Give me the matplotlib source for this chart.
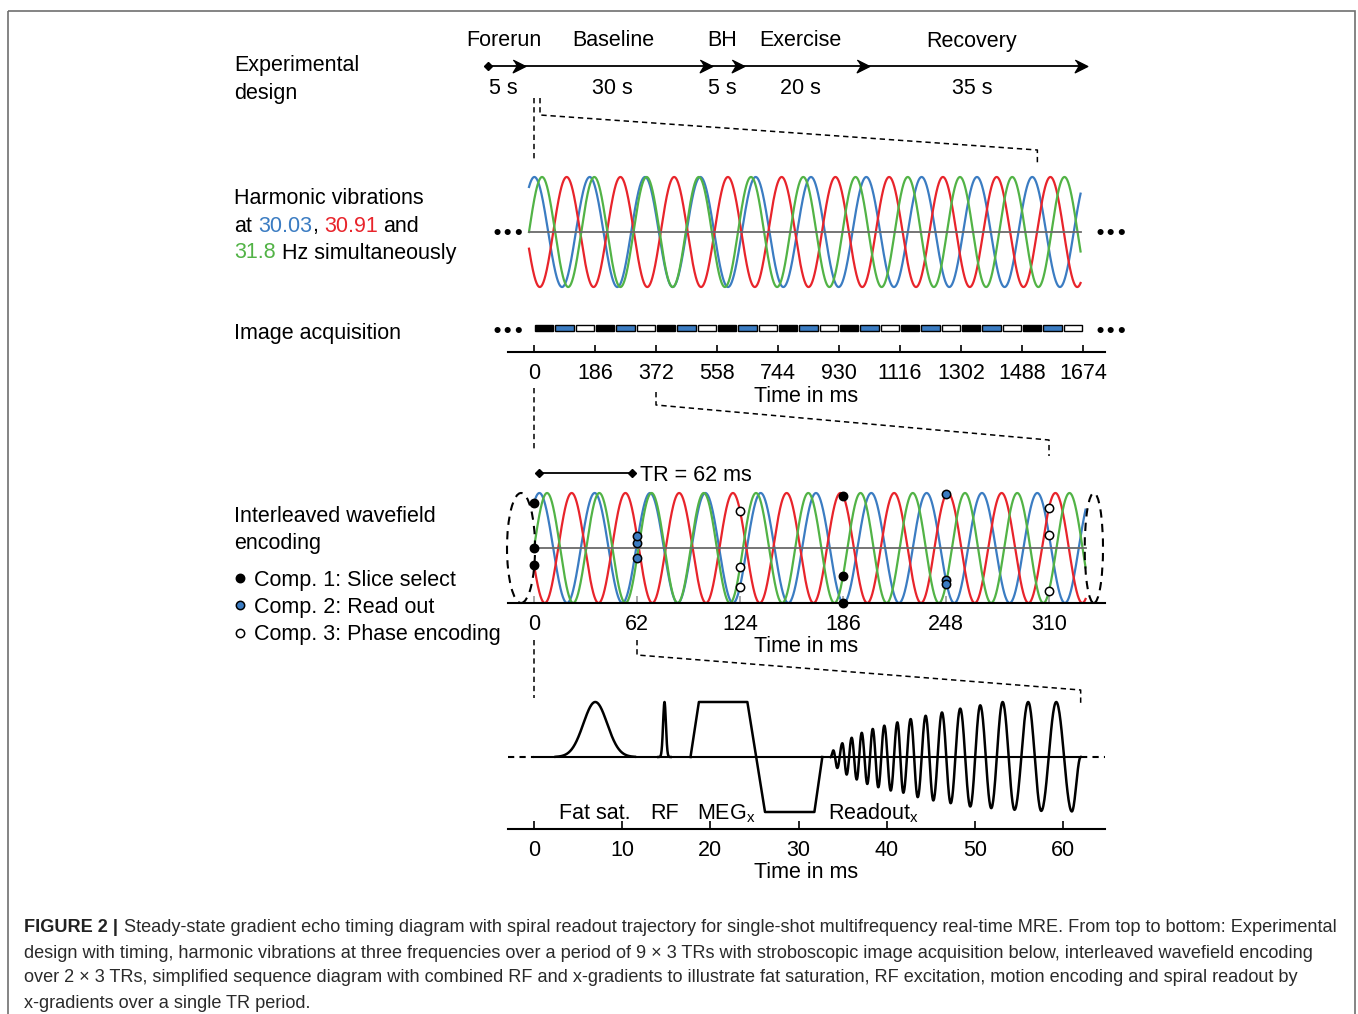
import matplotlib
matplotlib.use('Agg')
import matplotlib.pyplot as plt
from matplotlib.lines import Line2D
from matplotlib.patches import Ellipse, Rectangle
import numpy as np

plt.rcParams['font.family'] = ['Liberation Sans', 'DejaVu Sans']
plt.rcParams['mathtext.fontset'] = 'custom'
plt.rcParams['mathtext.rm'] = 'Liberation Sans'
plt.rcParams['mathtext.it'] = 'Liberation Sans:italic'

W, H = 1358, 1014
FS = 15.5

# experimental design
phases = ['Forerun', 'Baseline', 'BH', 'Exercise', 'Recovery']
durations_s = [5, 30, 5, 20, 35]

# harmonic vibrations
freqs_hz = [30.03, 30.91, 31.8]
phase0_rad = [0.96, 3.45, 0.0]
wave_colors = ['#3b7cc2', '#e8242b', '#52b346']
wave_end_ms = 332

# acquisition / wavefield encoding
TR = 62
n_acq = 27
acq_ticks = [0, 186, 372, 558, 744, 930, 1116, 1302, 1488, 1674]
enc_ticks = [0, 62, 124, 186, 248, 310]
comp_labels = ['Comp. 1: Slice select', 'Comp. 2: Read out', 'Comp. 3: Phase encoding']
comp_colors = ['black', '#3b7cc2', 'white']

# sequence diagram, time in ms, normalised amplitude
seq_ticks = [0, 10, 20, 30, 40, 50, 60]
fatsat_t, fatsat_sd = 6.95, 1.35
rf_t, rf_sd = 14.8, 0.16
meg_t = [17.75, 18.7, 24.2, 26.2, 31.8, 32.7]
meg_a = [0, 1, 1, -1, -1, 0]
ro_t = [33.65, 33.95, 34.4, 34.97, 35.46, 36.03, 36.6, 37.17, 37.8, 38.42, 39.05,
        39.73, 40.46, 41.21, 41.89, 42.72, 43.52, 44.42, 45.29, 46.27, 47.26,
        48.34, 49.48, 50.61, 51.86, 53.15, 54.5, 56.05, 57.53, 59.23, 61.0, 62.0]
ro_a = [0, 0.12, -0.2, 0.25, -0.32, 0.35, -0.41, 0.44, -0.49, 0.51, -0.55,
        0.57, -0.61, 0.63, -0.65, 0.69, -0.73, 0.75, -0.79, 0.81, -0.84,
        0.88, -0.90, 0.94, -0.93, 1.0, -0.96, 1.0, -0.98, 1.0, -0.99, 0]

caption_lines = [
    'Steady-state gradient echo timing diagram with spiral readout trajectory for single-shot multifrequency real-time MRE. From top to bottom: Experimental',
    'design with timing, harmonic vibrations at three frequencies over a period of 9 \u00d7 3 TRs with stroboscopic image acquisition below, interleaved wavefield encoding',
    'over 2 \u00d7 3 TRs, simplified sequence diagram with combined RF and x-gradients to illustrate fat saturation, RF excitation, motion encoding and spiral readout by',
    'x-gradients over a single TR period.',
]

fig = plt.figure(figsize=(W / 100, H / 100), dpi=100)
r = fig.canvas.get_renderer()

# overlay in pixel coordinates for labels and connectors
ax0 = fig.add_axes([0, 0, 1, 1])
ax0.set_xlim(0, W)
ax0.set_ylim(H, 0)
ax0.axis('off')


def add_ax(x0, y0, x1, y1):
    ax = fig.add_axes([x0 / W, 1 - y1 / H, (x1 - x0) / W, (y1 - y0) / H])
    ax.patch.set_visible(False)
    return ax


def px(ax, x, y=0):
    X, Y = ax.transData.transform((x, y))
    return X, H - Y


def waves(t):
    return [np.sin(2 * np.pi * f * t / 1000 + p) for f, p in zip(freqs_hz, phase0_rad)]


dash = (0, (3.5, 2.5))

# ---- experimental design timeline
ax_a = add_ax(488, 26, 1081, 106)
ax_a.set_xlim(0, sum(durations_s))
ax_a.set_ylim(40, -40)
ax_a.axis('off')
bounds = np.cumsum(durations_s)
ax_a.plot([0, bounds[-1]], [0, 0], color='k', lw=1.3, clip_on=False)
ax_a.plot([0], [0], marker='D', ms=4, color='k', clip_on=False)
dart = [(-1, 1), (1, 0), (-1, -1), (-0.4, 0)]
ax_a.plot(bounds, np.zeros(len(bounds)), ls='', marker=dart, ms=9, color='k', clip_on=False)
start = 0
for name, d in zip(phases, durations_s):
    mid = start + d / 2
    ax_a.text(mid, -25, name, ha='center', va='center', fontsize=FS)
    ax_a.text(mid, 22, f'{d} s', ha='center', va='center', fontsize=FS)
    start += d

# ---- harmonic vibrations
ax_b = add_ax(503, 170, 1100, 295)
ax_b.set_xlim(-15.65, 343.7)
ax_b.set_ylim(-1.145, 1.127)
ax_b.axis('off')
tt = np.linspace(0, wave_end_ms, 3000)
for y, c in zip(waves(tt), wave_colors):
    ax_b.plot(tt, y, color=c, lw=1.6)
ax_b.plot([0, wave_end_ms], [0, 0], color='#6a6a6a', lw=1.3, zorder=3)

# ---- image acquisition
ax_c = add_ax(508, 310, 1105, 352)
ax_c.set_xlim(-79.3, 1741)
ax_c.set_ylim(0, 42)
for s in ['top', 'left', 'right']:
    ax_c.spines[s].set_visible(False)
ax_c.spines['bottom'].set_linewidth(1.5)
ax_c.set_yticks([])
ax_c.set_xticks(acq_ticks)
ax_c.tick_params(axis='x', direction='in', length=5, width=1.2, labelsize=FS, pad=8)
ax_c.set_xlabel('Time in ms', fontsize=FS, labelpad=1)
starts = np.arange(n_acq) * TR
ax_c.bar(starts + 3, 6, width=TR - 6, bottom=21, align='edge',
         color=[comp_colors[k % 3] for k in range(n_acq)], edgecolor='black', linewidth=1.0)

# ---- interleaved wavefield encoding
ax_d = add_ax(508, 465, 1105, 603)
ax_d.set_xlim(-15.65, 343.7)
ax_d.set_ylim(-1, 1.509)
for s in ['top', 'left', 'right']:
    ax_d.spines[s].set_visible(False)
ax_d.spines['bottom'].set_linewidth(1.5)
ax_d.set_yticks([])
ax_d.set_xticks(enc_ticks)
ax_d.tick_params(axis='x', direction='in', length=5, width=1.2, color='#9a9a9a',
                 labelcolor='k', labelsize=FS, pad=8)
ax_d.set_xlabel('Time in ms', fontsize=FS, labelpad=1)
for y, c in zip(waves(tt), wave_colors):
    ax_d.plot(tt, y, color=c, lw=1.6)
ax_d.plot([0, wave_end_ms], [0, 0], color='#6a6a6a', lw=1.3, zorder=3)
for k, tk in enumerate(enc_ticks):
    for v in waves(np.array([tk])):
        ax_d.plot(tk, v[0], 'o', mfc=comp_colors[k % 3], mec='k', ms=6, mew=1.1,
                  zorder=5, clip_on=False)
for cx, w in [(-7.8, 16.9), (337, 11)]:
    ax_d.add_patch(Ellipse((cx, 0), w, 2.0, fill=False, ls=(0, (4, 3)), lw=1.5,
                           ec='k', clip_on=False, zorder=4))
ax_d.plot([3, TR - 3], [1.364, 1.364], color='k', lw=1.3, marker='D', ms=4)
ax_d.annotate(f'TR = {TR} ms', xy=(TR - 3, 1.364), xytext=(6, -1.5), textcoords='offset points',
              va='center', ha='left', fontsize=FS)

# ---- sequence diagram
ax_e = add_ax(508, 690, 1105, 829)
ax_e.set_xlim(-2.949, 64.76)
ax_e.set_ylim(-1.309, 1.218)
for s in ['top', 'left', 'right']:
    ax_e.spines[s].set_visible(False)
ax_e.spines['bottom'].set_linewidth(1.5)
ax_e.set_yticks([])
ax_e.set_xticks(seq_ticks)
ax_e.tick_params(axis='x', direction='in', length=6, width=1.2, labelsize=FS, pad=8)
ax_e.set_xlabel('Time in ms', fontsize=FS, labelpad=1)
x_lo, x_hi = ax_e.get_xlim()
ax_e.plot([0, 62], [0, 0], color='k', lw=1.5)
ax_e.plot([x_lo, 0], [0, 0], color='k', lw=1.5, ls=(0, (3, 2.5)))
ax_e.plot([62, x_hi], [0, 0], color='k', lw=1.5, ls=(0, (3, 2.5)))
lw_seq = 1.8
tg = np.linspace(fatsat_t - 4.5, fatsat_t + 4.5, 300)
ax_e.plot(tg, np.exp(-(tg - fatsat_t) ** 2 / (2 * fatsat_sd ** 2)), color='k', lw=lw_seq)
trf = np.linspace(rf_t - 0.7, rf_t + 0.7, 200)
ax_e.plot(trf, np.exp(-(trf - rf_t) ** 2 / (2 * rf_sd ** 2)), color='k', lw=lw_seq)
ax_e.plot(meg_t, meg_a, color='k', lw=lw_seq)
ro_x, ro_y = [], []
for i in range(len(ro_t) - 1):
    s = np.linspace(0, 1, 30)
    ro_x.append(ro_t[i] + (ro_t[i + 1] - ro_t[i]) * s)
    ro_y.append(ro_a[i] + (ro_a[i + 1] - ro_a[i]) * (1 - np.cos(np.pi * s)) / 2)
ax_e.plot(np.concatenate(ro_x), np.concatenate(ro_y), color='k', lw=lw_seq)
ly = -1.03
ax_e.text(fatsat_t, ly, 'Fat sat.', ha='center', va='center', fontsize=FS)
ax_e.text(rf_t, ly, 'RF', ha='center', va='center', fontsize=FS)
ax_e.text((meg_t[1] + meg_t[2]) / 2 + 0.3, ly, r'MEG$_\mathregular{x}$', ha='center', va='center', fontsize=FS)
ax_e.text(ro_t[0] - 0.3, ly, r'Readout$_\mathregular{x}$', ha='left', va='center', fontsize=FS)

# ---- connectors (dashed zoom lines)
def conn(pts):
    xs, ys = zip(*pts)
    ax0.plot(xs, ys, color='k', lw=1.1, ls=dash)

x0c = px(ax_c, 0)[0]
conn([(x0c, 98), (x0c, 160)])
conn([(x0c + 6, 98), (x0c + 6, 115), (px(ax_b, 306)[0], 150), (px(ax_b, 306)[0], 163)])
conn([(x0c, 388), (x0c, 452)])
xc372 = px(ax_c, 372)[0]
xd310 = px(ax_d, 310)[0]
conn([(xc372, 392), (xc372, 405), (xd310, 440), (xd310, 456)])
x0d = px(ax_d, 0)[0]
conn([(x0d, 640), (x0d, 698)])
xd62 = px(ax_d, 62)[0]
xe62 = px(ax_e, 62)[0]
conn([(xd62, 640), (xd62, 655), (xe62, 690), (xe62, 705)])

# ---- "..." continuation marks
for yy in [234, 332]:
    ax0.text(508, yy, '\u2022\u2022\u2022', ha='center', va='center', fontsize=12.5,
             family='DejaVu Sans', fontweight='bold')
    ax0.text(1111, yy, '\u2022\u2022\u2022', ha='center', va='center', fontsize=12.5,
             family='DejaVu Sans', fontweight='bold')

# ---- left labels
_t1 = ax0.text(0, 500, 'a a', fontsize=FS)
_t2 = ax0.text(0, 500, 'aa', fontsize=FS)
space_w = _t1.get_window_extent(r).width - _t2.get_window_extent(r).width
_t1.remove()
_t2.remove()


def rich(x, y, parts, fontsize=FS, **kw):
    for s, c, fw in parts:
        x += (len(s) - len(s.lstrip(' '))) * space_w * fontsize / FS
        core = s.strip(' ')
        t = ax0.text(x, y, core, color=c, fontsize=fontsize, fontweight=fw,
                     ha='left', va='center', **kw)
        x += t.get_window_extent(r).width
        x += (len(s) - len(s.rstrip(' '))) * space_w * fontsize / FS
    return x


LX = 234
for txt, yy in [('Experimental', 66), ('design', 94), ('Harmonic vibrations', 199),
                ('Image acquisition', 334), ('Interleaved wavefield', 516), ('encoding', 543)]:
    ax0.text(LX, yy, txt, ha='left', va='center', fontsize=FS)
rich(LX, 226, [('at ', 'k', 'normal'), ('30.03', wave_colors[0], 'normal'), (', ', 'k', 'normal'),
               ('30.91', wave_colors[1], 'normal'), (' and', 'k', 'normal')])
rich(LX, 253, [('31.8', wave_colors[2], 'normal'), (' Hz simultaneously', 'k', 'normal')])

handles = [Line2D([], [], ls='', marker='o', mfc=c, mec='k', ms=6, mew=1.1) for c in comp_colors]
fig.legend(handles, comp_labels, loc='center left', bbox_to_anchor=(LX / W, 1 - 607.5 / H),
           bbox_transform=fig.transFigure, frameon=False, fontsize=FS, handlelength=0.6,
           handletextpad=0.35, labelspacing=0.30, borderpad=0, borderaxespad=0)

# ---- caption
cap_fs = 13.1
cap_col = '#2a2a2a'
x_end = rich(24, 928, [('FIGURE 2 |', '#222222', 'bold')], fontsize=cap_fs)
rich(x_end + 6, 928, [(caption_lines[0], cap_col, 'normal')], fontsize=cap_fs)
for i, line in enumerate(caption_lines[1:]):
    ax0.text(24, 953 + 25 * i, line, ha='left', va='center', fontsize=cap_fs, color=cap_col)

# frame
ax0.add_patch(Rectangle((8, 11), 1347, 1020, fill=False, ec='#6f6f6f', lw=1.2, clip_on=False))

fig.savefig('out.png', dpi=100)
